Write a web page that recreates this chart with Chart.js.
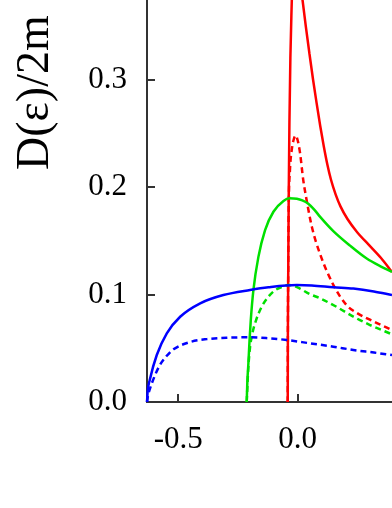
<!DOCTYPE html>
<html>
<head>
<meta charset="utf-8">
<script src="https://cdn.jsdelivr.net/npm/chart.js@4/dist/chart.umd.min.js"></script>
<style>html,body{margin:0;padding:0;background:#fff;overflow:hidden}canvas{display:block}</style>
</head>
<body>
<canvas id="c" width="392" height="508"></canvas>
<script>
// ---- data ----
const xTicks = [-0.5, 0.0];
const yTicks = [0.0, 0.1, 0.2, 0.3];
const yTitle = 'D(\u03b5)/2m';

const blueSolidX = [-0.631, -0.628, -0.6195, -0.59, -0.548, -0.492, -0.408, -0.311, -0.199, -0.122, -0.003, 0.06, 0.15, 0.234, 0.32, 0.396];
const blueSolidY = [0, 0.0105, 0.0205, 0.0437, 0.0639, 0.0793, 0.0918, 0.0995, 0.1042, 0.1067, 0.1088, 0.1085, 0.1068, 0.1055, 0.1028, 0.0995];

const blueDashX = [-0.631, -0.627, -0.6195, -0.60, -0.578, -0.55, -0.52, -0.45, -0.38, -0.297, -0.199, -0.122, -0.045, 0.052, 0.15, 0.234, 0.32, 0.396];
const blueDashY = [0, 0.006, 0.0118, 0.0235, 0.034, 0.0425, 0.049, 0.0558, 0.0585, 0.0598, 0.0602, 0.0593, 0.0577, 0.0546, 0.0515, 0.0484, 0.046, 0.0437];

const greenSolidX = [-0.213, -0.2105, -0.206, -0.201, -0.196, -0.185, -0.164, -0.136, -0.101, -0.059, -0.034, -0.003, 0.02, 0.045, 0.07, 0.094, 0.15, 0.22, 0.29, 0.35, 0.396];
const greenSolidY = [0, 0.018, 0.036, 0.058, 0.076, 0.104, 0.135, 0.160, 0.177, 0.187, 0.1895, 0.189, 0.1875, 0.1845, 0.179, 0.1725, 0.159, 0.1455, 0.1335, 0.126, 0.121];

const greenDashX = [-0.213, -0.2095, -0.206, -0.199, -0.189, -0.174, -0.150, -0.122, -0.094, -0.06, -0.04, -0.02, 0.01, 0.05, 0.094, 0.164, 0.234, 0.304, 0.396];
const greenDashY = [0, 0.018, 0.033, 0.051, 0.064, 0.076, 0.0887, 0.098, 0.104, 0.1075, 0.1088, 0.1083, 0.1055, 0.1005, 0.0965, 0.0885, 0.0794, 0.0716, 0.063];

const redSolidX = [-0.041, -0.0405, -0.039, -0.037, -0.034, -0.030, -0.024, -0.015, -0.002, 0.006, 0.012, 0.015, 0.021, 0.035, 0.05, 0.065, 0.08, 0.095, 0.11, 0.125, 0.14, 0.16, 0.18, 0.21, 0.25, 0.30, 0.35, 0.396];
const redSolidY = [0, 0.06, 0.12, 0.19, 0.26, 0.32, 0.374, 0.45, 0.55, 0.47, 0.41, 0.386, 0.374, 0.349, 0.324, 0.300, 0.278, 0.257, 0.238, 0.221, 0.207, 0.193, 0.182, 0.170, 0.158, 0.146, 0.134, 0.121];

const redDashX = [-0.041, -0.0405, -0.039, -0.037, -0.032, -0.024, -0.015, -0.008, 0.0, 0.010, 0.024, 0.038, 0.060, 0.094, 0.150, 0.206, 0.248, 0.318, 0.396];
const redDashY = [0, 0.06, 0.12, 0.18, 0.215, 0.235, 0.245, 0.248, 0.244, 0.2325, 0.2065, 0.188, 0.163, 0.138, 0.109, 0.090, 0.083, 0.075, 0.067];

const xMin = -0.631, xMax = 0.396;
const yMin = 0, yMax = 0.374;

// ---- chart ----
const pts = (xs, ys) => xs.map((x, i) => ({x: x, y: ys[i]}));
const serif = '"Liberation Serif", "Times New Roman", serif';
const axisColor = '#333333';

function ds(xs, ys, color, dashed) {
  return {
    data: pts(xs, ys),
    borderColor: color,
    borderWidth: 2.5,
    borderDash: dashed ? [6, 4] : [],
    pointRadius: 0,
    fill: false,
    cubicInterpolationMode: 'monotone',
    clip: 2
  };
}

const extras = {
  id: 'extras',
  beforeDatasetsDraw(chart) {
    const {ctx, chartArea: a, scales: {x, y}} = chart;
    ctx.save();
    ctx.strokeStyle = axisColor;
    ctx.lineWidth = 2;
    ctx.beginPath();
    x.ticks.forEach(t => {
      const px = Math.round(x.getPixelForValue(t.value));
      ctx.moveTo(px, a.bottom);
      ctx.lineTo(px, a.bottom - 8);
    });
    y.ticks.forEach(t => {
      if (t.value === 0) return;
      const py = Math.round(y.getPixelForValue(t.value));
      ctx.moveTo(a.left, py);
      ctx.lineTo(a.left + 8, py);
    });
    ctx.stroke();
    ctx.restore();
  },
  afterDraw(chart) {
    const ctx = chart.ctx;
    ctx.save();
    ctx.fillStyle = '#000';
    ctx.font = '46px ' + serif;
    ctx.textAlign = 'left';
    ctx.textBaseline = 'alphabetic';
    ctx.translate(48, 170);
    ctx.rotate(-Math.PI / 2);
    ctx.fillText(yTitle, 0, 0);
    ctx.restore();
  }
};

new Chart(document.getElementById('c'), {
  type: 'line',
  data: {
    datasets: [
      ds(blueSolidX, blueSolidY, '#0000ff', false),
      ds(blueDashX, blueDashY, '#0000ff', true),
      ds(greenSolidX, greenSolidY, '#00e000', false),
      ds(greenDashX, greenDashY, '#00e000', true),
      ds(redSolidX, redSolidY, '#ff0000', false),
      ds(redDashX, redDashY, '#ff0000', true)
    ]
  },
  options: {
    responsive: false,
    devicePixelRatio: 1,
    animation: false,
    layout: {padding: 0},
    plugins: {legend: {display: false}, tooltip: {enabled: false}},
    scales: {
      x: {
        type: 'linear',
        min: xMin, max: xMax,
        afterBuildTicks: s => { s.ticks = xTicks.map(v => ({value: v})); },
        afterFit: s => { s.height = 106; s.paddingLeft = 0; s.paddingRight = 0; },
        grid: {display: false, drawTicks: false},
        border: {display: true, color: axisColor, width: 2},
        ticks: {
          font: {family: serif, size: 31},
          color: '#000',
          padding: 19,
          maxRotation: 0,
          callback: v => Number(v).toFixed(1)
        }
      },
      y: {
        type: 'linear',
        min: yMin, max: yMax,
        afterBuildTicks: s => { s.ticks = yTicks.map(v => ({value: v})); },
        afterFit: s => { s.width = 147; s.paddingTop = 0; s.paddingBottom = 0; },
        grid: {display: false, drawTicks: false},
        border: {display: true, color: axisColor, width: 2},
        ticks: {
          font: {family: serif, size: 31},
          color: '#000',
          padding: 20,
          callback: v => Number(v).toFixed(1)
        }
      }
    }
  },
  plugins: [extras]
});
</script>
</body>
</html>
